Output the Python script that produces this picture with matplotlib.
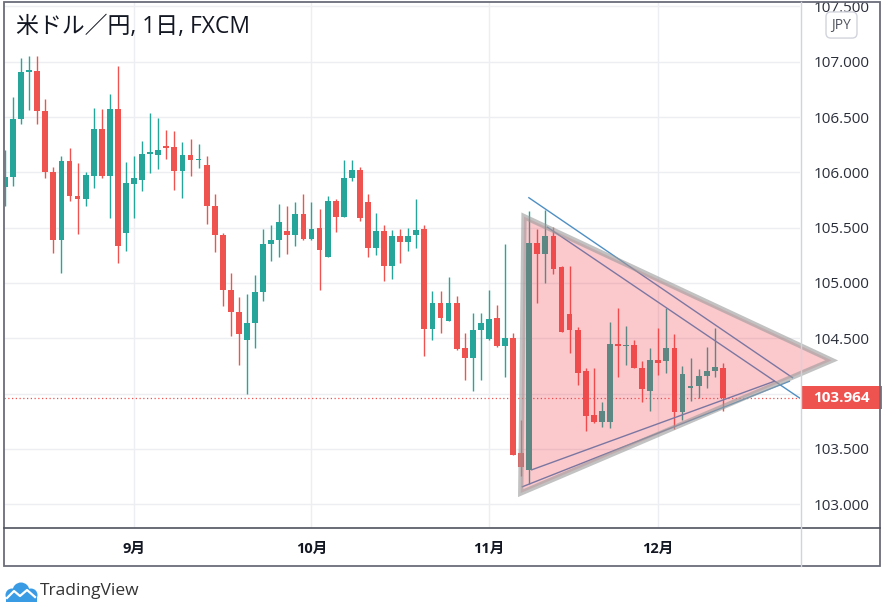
import matplotlib
matplotlib.use('Agg')
import matplotlib.pyplot as plt
import numpy as np
import pandas as pd
from matplotlib.patches import Rectangle, Polygon, Circle
from matplotlib.transforms import blended_transform_factory
from matplotlib.lines import Line2D

# ---------------- data ----------------
dates = pd.bdate_range('2020-08-10', '2020-12-11')

opens = [105.87, 105.96, 106.48, 106.91, 106.92, 106.55, 106.00, 105.39, 106.10, 105.79,
         105.76, 105.97, 106.39, 105.97, 106.57, 105.45, 105.89, 105.93, 106.17, 106.16,
         106.24, 106.23, 106.01, 106.16, 106.11, 106.07, 105.70, 105.43, 104.94, 104.74,
         104.48, 104.64, 104.92, 105.35, 105.39, 105.47, 105.43, 105.62, 105.40, 105.50,
         105.23, 105.74, 105.60, 105.95, 106.02, 105.73, 105.32, 105.47, 105.15, 105.42,
         105.37, 105.43, 105.49, 104.58, 104.82, 104.66, 104.82, 104.41, 104.32, 104.57,
         104.49, 104.68, 104.43, 104.50, 103.46, 103.31, 105.36, 105.26, 105.42, 105.14,
         104.72, 104.57, 104.20, 103.81, 103.74, 103.74, 104.45, 104.43, 104.44, 104.23,
         104.02, 104.30, 104.29, 104.41, 103.83, 104.05, 104.07, 104.16, 104.20, 104.23]

highs = [106.20, 106.68, 107.03, 107.05, 107.05, 106.66, 106.05, 106.15, 106.22, 106.08,
         106.00, 106.58, 106.57, 106.71, 106.96, 106.09, 106.15, 106.28, 106.54, 106.49,
         106.38, 106.37, 106.27, 106.30, 106.26, 106.15, 105.80, 105.45, 105.09, 104.87,
         104.90, 105.07, 105.49, 105.52, 105.71, 105.70, 105.73, 105.80, 105.73, 105.67,
         105.79, 105.76, 106.11, 106.11, 106.05, 105.80, 105.63, 105.52, 105.48, 105.49,
         105.50, 105.76, 105.52, 104.93, 104.93, 105.05, 104.88, 104.55, 104.73, 104.73,
         104.94, 104.80, 105.35, 104.55, 103.76, 105.65, 105.49, 105.66, 105.51, 105.15,
         105.15, 104.60, 104.23, 104.23, 103.92, 104.65, 104.77, 104.61, 104.48, 104.29,
         104.41, 104.59, 104.77, 104.54, 104.25, 104.32, 104.22, 104.42, 104.59, 104.28]

lows = [105.70, 105.88, 106.44, 106.56, 106.44, 105.95, 105.27, 105.09, 105.74, 105.44,
        105.70, 105.86, 105.95, 105.59, 105.18, 105.29, 105.59, 105.83, 105.99, 106.03,
        106.12, 105.84, 105.77, 105.97, 106.04, 105.53, 105.28, 104.79, 104.52, 104.26,
        104.00, 104.41, 104.84, 105.20, 105.23, 105.26, 105.33, 105.39, 105.39, 104.94,
        105.23, 105.46, 105.60, 105.92, 105.56, 105.23, 105.25, 105.02, 105.04, 105.18,
        105.29, 105.32, 104.34, 104.48, 104.55, 104.66, 104.39, 104.12, 104.02, 104.12,
        104.48, 104.42, 104.15, 103.44, 103.25, 103.18, 104.82, 105.00, 105.08, 104.56,
        104.37, 104.08, 103.66, 103.73, 103.70, 103.69, 104.15, 104.26, 104.23, 103.92,
        103.84, 104.17, 104.19, 103.68, 103.76, 103.93, 103.96, 104.05, 104.15, 103.84]

closes = [105.96, 106.48, 106.91, 106.92, 106.55, 106.00, 105.39, 106.10, 105.79, 105.76,
          105.98, 106.39, 105.97, 106.57, 105.33, 105.90, 105.95, 106.17, 106.18, 106.20,
          106.22, 106.01, 106.16, 106.11, 106.12, 105.70, 105.43, 104.94, 104.74, 104.54,
          104.64, 104.92, 105.35, 105.39, 105.55, 105.43, 105.62, 105.40, 105.49, 105.30,
          105.74, 105.60, 105.95, 106.02, 105.59, 105.32, 105.47, 105.15, 105.42, 105.37,
          105.42, 105.48, 104.58, 104.82, 104.68, 104.82, 104.40, 104.32, 104.57, 104.64,
          104.67, 104.43, 104.50, 103.44, 103.34, 105.36, 105.26, 105.42, 105.13, 104.56,
          104.57, 104.19, 103.80, 103.74, 103.84, 104.45, 104.43, 104.44, 104.23, 104.04,
          104.30, 104.28, 104.41, 103.83, 104.18, 104.07, 104.16, 104.20, 104.24, 103.964]

last_price = 103.964
price_ticks = [103.0, 103.5, 104.0, 104.5, 105.0, 105.5, 106.0, 106.5, 107.0, 107.5]
month_numbers = [9, 10, 11, 12]
month_labels = ['9月', '10月', '11月', '12月']

# drawings (bar index, price)
triangle_x = [64.35, 63.94, 102.50]
triangle_y = [105.60, 103.10, 104.30]
line_a_x = [64.88, 97.71]
line_a_y = [105.774, 104.140]
line_b_x = [67.17, 98.57]
line_b_y = [105.508, 103.957]
line_c_x = [65.22, 95.47]
line_c_y = [103.308, 104.113]
line_d_x = [64.07, 97.33]
line_d_y = [103.155, 104.113]

title = '米ドル／円, 1日, FXCM'
currency = 'JPY'

# ---------------- style ----------------
GREEN = '#26a69a'
RED = '#ef5350'
TXT = '#131722'
LATIN_CJK = ['Open Sans', 'Noto Sans CJK JP', 'DejaVu Sans']

W, H = 883, 606
fig = plt.figure(figsize=(W / 100, H / 100), dpi=100)
fig.patch.set_facecolor('white')

L, R, T, B = 4, 800, 2, 527.7
ax = fig.add_axes([L / W, 1 - B / H, (R - L) / W, (B - T) / H])
ax.set_facecolor('white')

o = np.array(opens); h = np.array(highs); l = np.array(lows); c = np.array(closes)
idx = np.arange(len(o))
colors = np.where(c >= o, GREEN, RED)

ax.vlines(idx, l, h, colors=colors, lw=1.0, zorder=2)
body_bottom = np.minimum(o, c)
body_h = np.maximum(np.abs(c - o), 0.012)
ax.bar(idx, body_h, bottom=body_bottom, width=0.72, color=colors, linewidth=0, zorder=3)

# trend lines (under the triangle fill)
for xs, ys in [(line_a_x, line_a_y), (line_b_x, line_b_y),
               (line_c_x, line_c_y), (line_d_x, line_d_y)]:
    ax.plot(xs, ys, color='#4f8fc4', lw=1.0, zorder=3.5, solid_capstyle='butt')

tri = list(zip(triangle_x, triangle_y))
ax.add_patch(Polygon(tri, closed=True, facecolor='#f23645', alpha=0.27,
                     edgecolor='none', zorder=4, clip_on=False))
ax.add_patch(Polygon(tri, closed=True, fill=False, edgecolor='#9a9a9a', alpha=0.6,
                     lw=3.8, joinstyle='miter', zorder=5, clip_on=False))

# last price dotted line
ax.axhline(last_price, color=RED, lw=0.9, ls=(0, (1, 2)), zorder=1.5)

# axes ranges
ax.set_xlim(-0.124, 98.57)
ax.set_ylim(102.787, 107.54)

# grid / ticks
ax.set_yticks(price_ticks)
ax.set_yticklabels(['' if abs(v - 104.0) < 1e-9 else f'{v:.3f}' for v in price_ticks])
ax.yaxis.tick_right()
ax.tick_params(axis='y', length=0, pad=9.5, labelsize=11, labelcolor='#2a2e39')
for t in ax.get_yticklabels():
    t.set_fontfamily('Open Sans')

month_pos = [int(np.argmax(dates.month == m)) for m in month_numbers]
ax.set_xticks(month_pos)
ax.set_xticklabels(month_labels)
ax.tick_params(axis='x', length=0, pad=10, labelsize=10.5, labelcolor=TXT)
for t in ax.get_xticklabels():
    t.set_fontfamily(LATIN_CJK)
    t.set_fontweight('bold')

ax.grid(True, color='#eceef2', lw=1.0, zorder=0)
ax.set_axisbelow(True)
for s in ax.spines.values():
    s.set_visible(False)

# last price label
btr = blended_transform_factory(ax.transAxes, ax.transData)
ax.add_patch(Rectangle((1.001, last_price - 0.1), 81 / (R - L), 0.2, transform=btr,
                       facecolor=RED, edgecolor='none', clip_on=False, zorder=10))
ax.text(1.0 + 41 / (R - L), last_price, f'{last_price:.3f}', transform=btr,
        ha='center', va='center', color='white', fontsize=11, fontweight='bold',
        family='Open Sans', zorder=11, clip_on=False)

# frame and separators
fig.add_artist(Rectangle((4 / W, 1 - 566 / H), 876 / W, 564 / H, transform=fig.transFigure,
                         fill=False, edgecolor='#6a6d78', lw=1.3))
fig.add_artist(Line2D([4 / W, 880 / W], [1 - B / H, 1 - B / H], transform=fig.transFigure,
                      color='#50535e', lw=1.2))
fig.add_artist(Line2D([800.5 / W, 800.5 / W], [1 - 566 / H, 1 - 2 / H], transform=fig.transFigure,
                      color='#d1d4dc', lw=1.0))

# title
fig.text(16 / W, 1 - 27 / H, title, fontsize=16.5, family=LATIN_CJK, color=TXT,
         ha='left', va='center')

# currency box
fig.text(841.5 / W, 1 - 25 / H, currency, fontsize=10, color='#50535e', family='Open Sans',
         ha='center', va='center',
         bbox=dict(boxstyle='round,pad=0.4,rounding_size=0.35', fc='white', ec='#d1d4dc', lw=1))

# TradingView logo
lax = fig.add_axes([3 / W, 1 - 603 / H, 36 / W, 24 / H])
lax.set_xlim(0, 36); lax.set_ylim(0, 24); lax.axis('off')
blue = '#3a9be5'
for (cx, cy, r) in [(9, 8, 6.5), (18, 12, 8.5), (28, 8, 6.5)]:
    lax.add_patch(Circle((cx, cy), r, color=blue, lw=0))
lax.add_patch(Rectangle((3, 1.5), 31, 6, color=blue, lw=0))
lax.plot([4, 11, 17, 24, 32], [5, 12, 7, 13, 6], color='white', lw=1.6)
fig.text(40 / W, 1 - 591 / H, 'TradingView', fontsize=12.5, color='#333333',
         family='Open Sans', ha='left', va='center')

fig.savefig('out.png', dpi=100, facecolor='white')
